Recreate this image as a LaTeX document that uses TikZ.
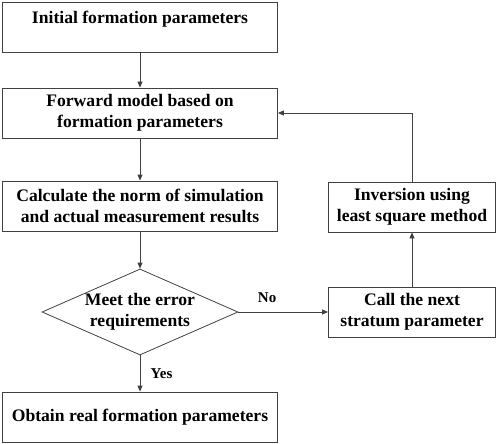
\documentclass[tikz,border=0pt]{standalone}
\usepackage{fontspec}
\setmainfont{Liberation Serif}
\usetikzlibrary{shapes.geometric,arrows.meta}
\definecolor{linegray}{HTML}{404040}

\begin{document}
\begin{tikzpicture}[x=1pt,y=-1pt,line width=0.8pt,
  box/.style={draw=linegray,rectangle,minimum width=275pt,minimum height=50pt,
    align=center,font=\fontsize{17.6}{21}\selectfont\bfseries},
  sidebox/.style={box,minimum width=167pt},
  decide/.style={draw=linegray,diamond,aspect=2.28,minimum width=196pt,
    minimum height=86pt,inner sep=0pt,align=center,
    font=\fontsize{17.6}{21}\selectfont\bfseries},
  flow/.style={draw=linegray,-{Triangle[length=6pt,width=5pt]}},
  tag/.style={font=\fontsize{15}{17}\selectfont\bfseries}]
  \useasboundingbox (0,0) rectangle (498,444);
  % Define steps
  \node[box,text depth=20pt] (init) at (140,27) {Initial formation parameters};
  \node[box] (forward) at (140,113) {Forward model based on\\formation parameters};
  \node[box] (norm) at (140,206) {Calculate the norm of simulation\\and actual measurement results};
  \node[decide] (meet) at (140,312) {Meet the error\\requirements};
  \node[box] (obtain) at (140,417) {Obtain real formation parameters};
  \node[sidebox] (next) at (412,312) {Call the next\\stratum parameter};
  \node[sidebox] (invert) at (412,207) {Inversion using\\least square method};
  % Connections
  \draw[flow] (init) -- (forward);
  \draw[flow] (forward) -- (norm);
  \draw[flow] (norm) -- (meet);
  \draw[flow] (meet) -- node[tag,pos=0.5,right=7pt] {Yes} (obtain);
  \draw[flow] (meet) -- node[tag,pos=0.32,above=6pt] {No} (next);
  \draw[flow] (next) -- (invert);
  \draw[flow] (invert.north) |- (forward.east);
\end{tikzpicture}
\end{document}
